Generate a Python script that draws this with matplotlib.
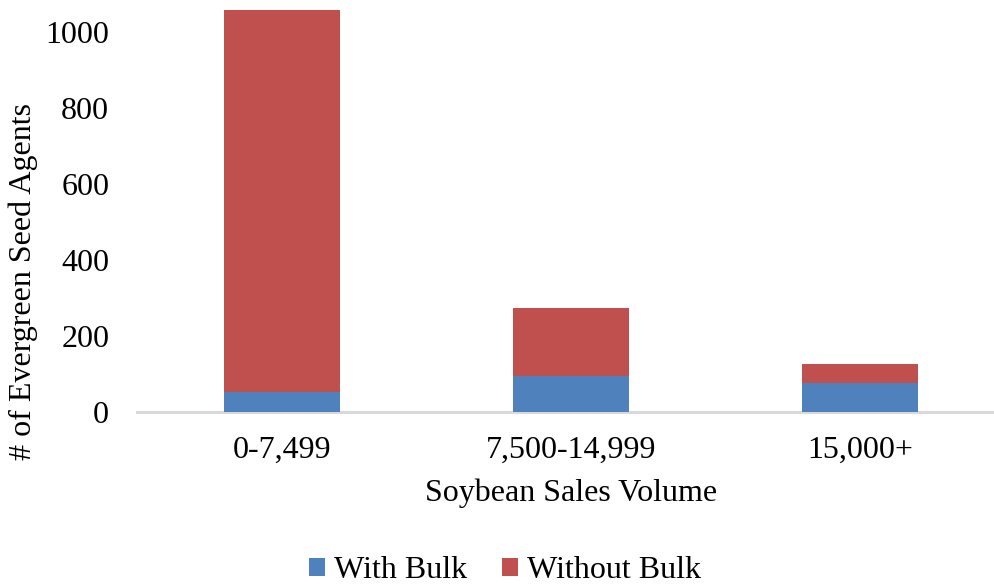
import matplotlib
matplotlib.use("Agg")
import matplotlib.pyplot as plt
import numpy as np

categories = ["0-7,499", "7,500-14,999", "15,000+"]
with_bulk = [52, 94, 75]
without_bulk = [1005, 179, 51]
y_ticks = [0, 200, 400, 600, 800, 1000]

BLUE = "#4F81BD"
RED = "#C0504D"
FONT = ["Liberation Serif", "DejaVu Serif"]

plt.rcParams["font.family"] = FONT
plt.rcParams["font.size"] = 23

W, H = 994, 584
fig = plt.figure(figsize=(W / 100, H / 100), dpi=100)

# axes box in pixel terms: left 137, right 1005 (runs past the canvas), baseline 412, top 0
left, right, base, top = 137, 1005, 412, 0
ax = fig.add_axes([left / W, (H - base) / H, (right - left) / W, (base - top) / H])

x = np.arange(len(categories))
ax.bar(x, with_bulk, width=0.4, color=BLUE, label="With Bulk", zorder=3)
ax.bar(x, without_bulk, width=0.4, bottom=with_bulk, color=RED,
       label="Without Bulk", zorder=3)

ax.set_xlim(-0.5, 2.5)
ax.set_ylim(0, 412 / 0.3803)
ax.set_yticks(y_ticks)
ax.set_xticks(x)
ax.set_xticklabels(categories)

for side in ("top", "right", "left"):
    ax.spines[side].set_visible(False)
ax.spines["bottom"].set_color("#D9D9D9")
ax.spines["bottom"].set_linewidth(2.2)
ax.tick_params(axis="both", length=0, labelsize=23)
ax.tick_params(axis="x", pad=17)
ax.tick_params(axis="y", pad=20)

ax.set_xlabel("Soybean Sales Volume", fontsize=23, labelpad=10)
fig.text(23 / W, 1 - 281 / H, "# of Evergreen Seed Agents", rotation=90,
         ha="center", va="center", fontsize=23)

fig.legend(loc="center", bbox_to_anchor=(505 / W, 1 - 571 / H), ncol=2,
           frameon=False, fontsize=23, handlelength=0.5, handleheight=0.5,
           handletextpad=0.27, columnspacing=1.1)

fig.savefig("out.png", dpi=100)
